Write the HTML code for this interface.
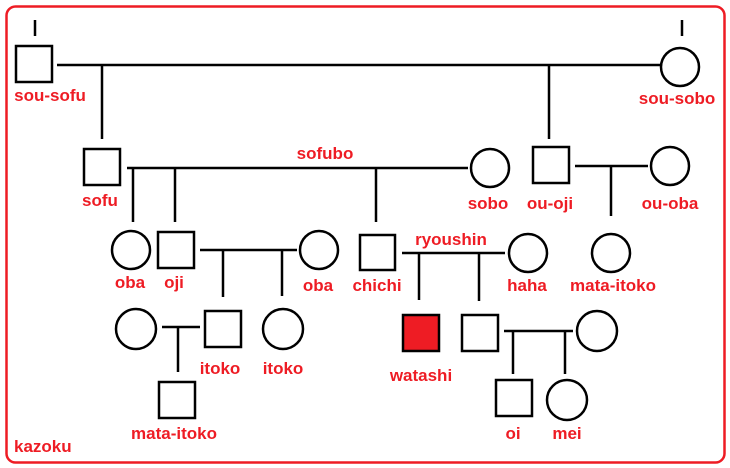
<!DOCTYPE html>
<html><head><meta charset="utf-8"><style>
html,body{margin:0;padding:0;background:#fff;}
svg{display:block;}
text{font-family:"Liberation Sans",sans-serif;font-weight:bold;font-size:17px;fill:#ee1c24;text-anchor:middle;}
</style></head><body>
<svg width="730" height="468" viewBox="0 0 730 468" xmlns="http://www.w3.org/2000/svg">
<rect x="6.5" y="6.5" width="718" height="456" rx="9" fill="none" stroke="#ee1c24" stroke-width="2.5"/>
<g stroke="#000" stroke-width="2.5" fill="#fff">
<line x1="35" y1="20" x2="35" y2="36"/>
<line x1="682" y1="20" x2="682" y2="36"/>
<rect x="16" y="46" width="36" height="36"/>
<line x1="57" y1="65" x2="660" y2="65"/>
<line x1="102" y1="65" x2="102" y2="139"/>
<line x1="549" y1="65" x2="549" y2="139"/>
<circle cx="680" cy="67" r="19"/>
<rect x="84" y="149" width="36" height="36"/>
<line x1="127" y1="168" x2="468" y2="168"/>
<line x1="133" y1="168" x2="133" y2="222"/>
<line x1="175" y1="168" x2="175" y2="222"/>
<line x1="376" y1="168" x2="376" y2="222"/>
<circle cx="490" cy="168" r="19"/>
<rect x="533" y="147" width="36" height="36"/>
<line x1="575" y1="166" x2="648" y2="166"/>
<line x1="611" y1="166" x2="611" y2="216"/>
<circle cx="670" cy="166" r="19"/>
<circle cx="611" cy="253" r="19"/>
<circle cx="131" cy="250" r="19"/>
<rect x="158" y="232" width="36" height="36"/>
<line x1="200" y1="250" x2="297" y2="250"/>
<line x1="223" y1="250" x2="223" y2="297"/>
<line x1="282" y1="250" x2="282" y2="296"/>
<circle cx="319" cy="250" r="19"/>
<rect x="360" y="235" width="35" height="35"/>
<line x1="402" y1="253" x2="505" y2="253"/>
<line x1="419" y1="253" x2="419" y2="300"/>
<line x1="479" y1="253" x2="479" y2="301"/>
<circle cx="528" cy="253" r="19"/>
<rect x="403" y="315" width="36" height="36" fill="#ee1c24"/>
<rect x="462" y="315" width="36" height="36"/>
<line x1="504" y1="331" x2="573" y2="331"/>
<line x1="513" y1="331" x2="513" y2="374"/>
<line x1="565" y1="331" x2="565" y2="374"/>
<circle cx="597" cy="331" r="20"/>
<rect x="496" y="380" width="36" height="36"/>
<circle cx="567" cy="400" r="20"/>
<circle cx="136" cy="329" r="20"/>
<line x1="162" y1="327" x2="200" y2="327"/>
<line x1="178" y1="327" x2="178" y2="372"/>
<rect x="205" y="311" width="36" height="36"/>
<circle cx="283" cy="329" r="20"/>
<rect x="159" y="382" width="36" height="36"/>
</g>
<text x="50" y="101">sou-sofu</text>
<text x="677" y="104">sou-sobo</text>
<text x="325" y="159">sofubo</text>
<text x="100" y="206">sofu</text>
<text x="488" y="209">sobo</text>
<text x="550" y="209">ou-oji</text>
<text x="670" y="209">ou-oba</text>
<text x="130" y="288">oba</text>
<text x="174" y="288">oji</text>
<text x="318" y="291">oba</text>
<text x="377" y="291">chichi</text>
<text x="451" y="245">ryoushin</text>
<text x="527" y="291">haha</text>
<text x="613" y="291">mata-itoko</text>
<text x="421" y="381">watashi</text>
<text x="220" y="374">itoko</text>
<text x="283" y="374">itoko</text>
<text x="174" y="439">mata-itoko</text>
<text x="513" y="439">oi</text>
<text x="567" y="439">mei</text>
<text x="14" y="452" style="text-anchor:start">kazoku</text>
</svg>
</body></html>
